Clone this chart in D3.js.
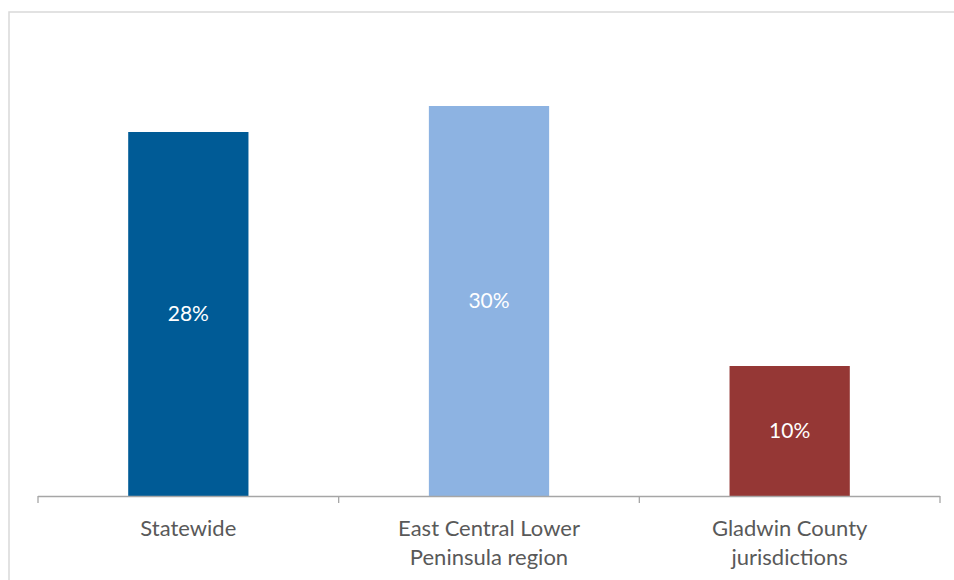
<!DOCTYPE html>
<html>
<head>
<meta charset="utf-8">
<script src="https://cdn.jsdelivr.net/npm/d3@7"></script>
<style>
  body { margin: 0; background: #fff; }
  svg { display: block; font-family: Lato, "Open Sans", sans-serif; }
</style>
</head>
<body>
<div id="chart"></div>
<script>
// chart data
const categories = ['Statewide', 'East Central Lower Peninsula region', 'Gladwin County jurisdictions'];
const labelLines = [['Statewide'], ['East Central Lower', 'Peninsula region'], ['Gladwin County', 'jurisdictions']];
const values = [28, 30, 10];
const barColors = ['#005b96', '#8db3e2', '#953735'];

const width = 954, height = 580;

const svg = d3.select('#chart').append('svg')
    .attr('width', width)
    .attr('height', height);

// chart area border (right/bottom fall outside the picture)
svg.append('rect')
    .attr('x', 9).attr('y', 12)
    .attr('width', 1100).attr('height', 700)
    .attr('fill', 'none')
    .attr('stroke', '#d9d9d9')
    .attr('stroke-width', 1.5);

const x = d3.scaleBand()
    .domain(categories)
    .range([38, 940])
    .paddingInner(0.6)
    .paddingOuter(0.3);

const y = d3.scaleLinear()
    .domain([0, 35])
    .range([496, 41]);

// bars
const bars = svg.selectAll('.bar')
    .data(categories)
    .enter()
    .append('g')
    .attr('class', 'bar');

bars.append('rect')
    .attr('x', d => x(d))
    .attr('y', (d, i) => y(values[i]))
    .attr('width', x.bandwidth())
    .attr('height', (d, i) => y(0) - y(values[i]))
    .attr('fill', (d, i) => barColors[i]);

// value labels centred in bars
bars.append('text')
    .attr('x', d => x(d) + x.bandwidth() / 2)
    .attr('y', (d, i) => (y(values[i]) + y(0)) / 2)
    .attr('dy', '0.35em')
    .attr('text-anchor', 'middle')
    .attr('fill', '#ffffff')
    .style('font-size', '21px')
    .text((d, i) => values[i] + '%');

// category axis with ticks between categories
const axisG = svg.append('g').attr('stroke', '#a6a6a6').attr('stroke-width', 1.3);
axisG.append('line')
    .attr('x1', x.range()[0]).attr('x2', x.range()[1])
    .attr('y1', y(0) + 0.5).attr('y2', y(0) + 0.5);

const tickPos = d3.range(categories.length + 1).map(i => x.range()[0] + i * x.step());
axisG.selectAll('.tick')
    .data(tickPos)
    .enter()
    .append('line')
    .attr('x1', d => d).attr('x2', d => d)
    .attr('y1', y(0)).attr('y2', y(0) + 7);

// category labels
const labels = svg.selectAll('.cat-label')
    .data(categories)
    .enter()
    .append('text')
    .attr('class', 'cat-label')
    .attr('text-anchor', 'middle')
    .attr('fill', '#595959')
    .style('font-size', '22px');

labels.selectAll('tspan')
    .data((d, i) => labelLines[i].map(t => ({ t, c: d })))
    .enter()
    .append('tspan')
    .attr('x', d => x(d.c) + x.bandwidth() / 2)
    .attr('y', (d, j) => 536 + j * 29)
    .text(d => d.t);
</script>
</body>
</html>
